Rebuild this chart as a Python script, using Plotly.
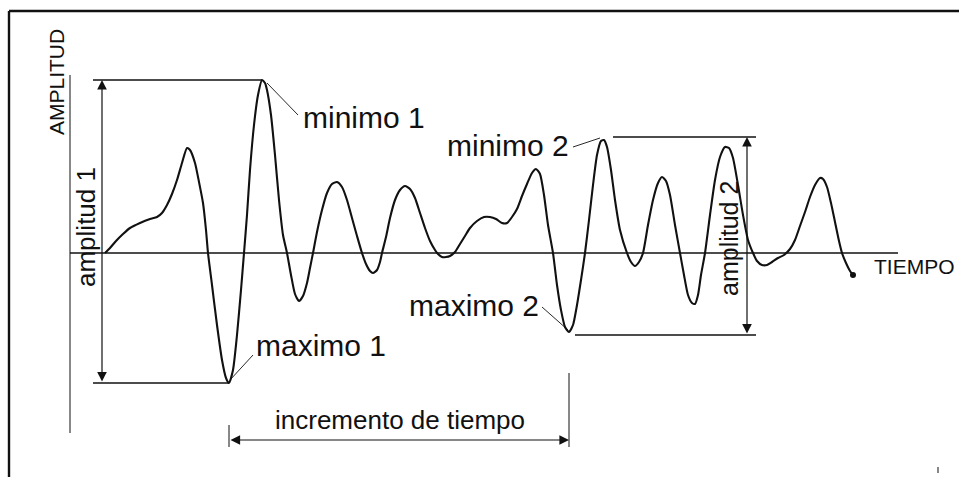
import plotly.graph_objects as go

# ---- waveform (time, amplitude) ----
time = [0, 5, 11, 18, 25, 35, 45, 52, 57, 62, 67, 72, 77, 82, 85, 90, 94, 98, 101, 103,
        107, 112, 117, 121, 124, 128, 132, 136, 139, 142, 145, 149, 153, 157, 160, 162,
        166, 170, 174, 178, 182, 186, 190, 194, 198, 202, 205, 208, 212, 217, 222, 227,
        232, 237, 242, 247, 252, 257, 261, 265, 268, 272, 275, 277, 281, 285, 290, 295,
        300, 305, 310, 315, 320, 325, 330, 333, 337, 341, 345, 350, 355, 360, 365, 372,
        379, 385, 391, 397, 402, 407, 412, 417, 422, 427, 431, 435, 439, 443, 448, 452,
        456, 460, 464, 468, 472, 476, 480, 484, 488, 492, 496, 499, 502, 506, 510, 515,
        522, 526, 530, 534, 538, 543, 548, 553, 557, 561, 565, 570, 575, 579, 583, 587,
        590, 593, 596, 600, 605, 610, 615, 620, 624, 628, 633, 638, 643, 648, 652, 657,
        662, 667, 673, 679, 685, 690, 695, 700, 705, 710, 715, 718, 722, 726, 730, 734,
        737, 741, 745, 748]
amplitude = [0, 5, 12, 19, 25, 30, 34, 36, 40, 48, 59, 73, 90, 105, 103, 90, 71, 50, 23, 0,
             -32, -72, -107, -125, -130, -117, -82, -37, 0, 38, 83, 128, 158, 173, 170, 163,
             138, 98, 53, 18, 0, -22, -41, -48, -43, -30, -15, 0, 21, 43, 60, 69,
             71, 66, 53, 35, 17, 0, -11, -18, -20, -17, -9, 0, 16, 35, 53, 63,
             67, 64, 55, 40, 25, 12, 3, -1, -4, -4, -3, 1, 9, 17, 25, 32,
             36, 36, 34, 30, 30, 36, 44, 57, 69, 80, 84, 79, 58, 28, 0, -32,
             -57, -74, -79, -72, -52, -27, 0, 33, 68, 98, 112, 113, 106, 83, 53, 23,
             0, -9, -13, -9, 0, 28, 53, 70, 76, 72, 58, 28, 0, -22, -42, -50,
             -51, -42, -22, 0, 38, 73, 96, 106, 105, 95, 68, 38, 13, 0, -8, -12,
             -12, -9, -5, -2, 4, 13, 27, 41, 56, 68, 75, 74, 66, 50, 31, 12,
             0, -10, -18, -22]

labels_peaks = ["minimo 1", "maximo 1", "minimo 2", "maximo 2"]
label_dims = ["amplitud 1", "amplitud 2", "incremento de tiempo"]
axis_titles = ["AMPLITUD", "TIEMPO"]

INK = "#111111"
FONT = "Liberation Sans, Arial, sans-serif"

# extremes from the data
i_min1 = max(range(len(amplitude)), key=lambda i: amplitude[i])          # tallest peak
i_max1 = min(range(len(amplitude)), key=lambda i: amplitude[i])          # deepest trough
i_min2 = max(range(len(amplitude)), key=lambda i: amplitude[i] if 480 < time[i] < 520 else -1e9)
i_max2 = min(range(len(amplitude)), key=lambda i: amplitude[i] if 440 < time[i] < 480 else 1e9)

t_min1, a_min1 = time[i_min1], amplitude[i_min1]
t_max1, a_max1 = time[i_max1], amplitude[i_max1]
t_min2, a_min2 = time[i_min2], amplitude[i_min2]
t_max2, a_max2 = time[i_max2], amplitude[i_max2]

fig = go.Figure()
fig.add_trace(go.Scatter(x=time, y=amplitude, mode="lines",
                         line=dict(color=INK, width=2.1, shape="spline", smoothing=0.6),
                         hoverinfo="skip"))
fig.add_trace(go.Scatter(x=[time[-1]], y=[amplitude[-1]], mode="markers",
                         marker=dict(color=INK, size=6), hoverinfo="skip"))

shapes = []
def line(x0, y0, x1, y1, w=1.2):
    shapes.append(dict(type="line", xref="x", yref="y", x0=x0, y0=y0, x1=x1, y1=y1,
                       line=dict(color=INK, width=w)))

# frame
line(-96, 242, 854, 242, 2.4)
line(-96, 242, -96, -224, 2.4)
# axes
line(-35, 178, -35, -180, 1)
line(-35, 0, 793, 0, 1.7)
# amplitud 1 extension lines
line(-12, a_min1, t_min1, a_min1, 1.7)
line(-12, a_max1, t_max1, a_max1, 1.7)
# amplitud 2 extension lines
line(508, a_min2 + 3, 651, a_min2 + 3, 1.7)
line(470, a_max2 - 3, 651, a_max2 - 3, 1.7)
# incremento de tiempo extension lines
line(t_max1, -172, t_max1, -194, 1)
line(t_max2, -120, t_max2, -194, 1)
# leader lines
line(t_min1 + 5, a_min1 - 3, 193, 138, 0.9)
line(t_max1 + 1, a_max1 + 3, 148, -102, 0.9)
line(t_min2 - 4, a_min2 + 2, 468, 106, 0.9)
line(t_max2 - 1, a_max2 + 2, 437, -54, 0.9)
# small mark
line(833, -214, 833, -220, 1)

annotations = []
def dim(x0, y0, x1, y1):
    annotations.append(dict(x=x1, y=y1, ax=x0, ay=y0, xref="x", yref="y", axref="x", ayref="y",
                            text="", showarrow=True, arrowhead=2, arrowside="end+start",
                            arrowsize=1.6, arrowwidth=1.2, arrowcolor=INK, standoff=0, startstandoff=0))

dim(-3, a_max1, -3, a_min1)
dim(642, a_max2 - 3, 642, a_min2 + 3)
dim(t_max1, -187, t_max2, -187)

def txt(x, y, s, size, xanchor="center", angle=0):
    annotations.append(dict(x=x, y=y, xref="x", yref="y", text=s, showarrow=False,
                            xanchor=xanchor, yanchor="middle", textangle=angle,
                            font=dict(family=FONT, size=size, color=INK)))

txt(196, 136, labels_peaks[0], 30, "left")
txt(149, -92, labels_peaks[1], 30, "left")
txt(466, 108, labels_peaks[2], 30, "right")
txt(436, -52, labels_peaks[3], 30, "right")
txt(-19, 26, label_dims[0], 26, angle=-90)
txt(624, 14, label_dims[1], 25, angle=-90)
txt(295, -167, label_dims[2], 26)
txt(-49, 171, axis_titles[0], 21, angle=-90)
txt(767, -13, axis_titles[1], 21, "left")

fig.update_layout(width=959, height=477, margin=dict(l=0, r=0, t=0, b=0),
                  paper_bgcolor="white", plot_bgcolor="white", showlegend=False,
                  xaxis=dict(visible=False, range=[-105, 854], fixedrange=True),
                  yaxis=dict(visible=False, range=[-224, 253], fixedrange=True),
                  shapes=shapes, annotations=annotations)
fig.write_html("out.html")
